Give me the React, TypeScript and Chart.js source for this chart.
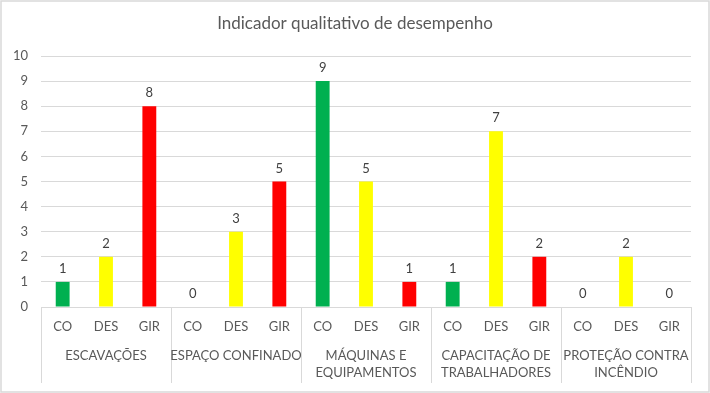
import React, { useEffect, useRef } from "react";
import { Chart, registerables } from "chart.js";

Chart.register(...registerables);

const title = "Indicador qualitativo de desempenho";
const groupLabelLines: string[][] = [
  ["ESCAVAÇÕES"],
  ["ESPAÇO CONFINADO"],
  ["MÁQUINAS E", "EQUIPAMENTOS"],
  ["CAPACITAÇÃO DE", "TRABALHADORES"],
  ["PROTEÇÃO CONTRA", "INCÊNDIO"],
];
const subLabels = ["CO", "DES", "GIR"];
const coValues = [1, 0, 9, 1, 0];
const desValues = [2, 3, 5, 7, 2];
const girValues = [8, 5, 1, 2, 0];
const subColors = ["#00B050", "#FFFF00", "#FF0000"];
const yTicks = [0, 1, 2, 3, 4, 5, 6, 7, 8, 9, 10];

const FONT = "Lato, 'Open Sans', sans-serif";
const TEXT = "#595959";

export default function App() {
  const ref = useRef<HTMLCanvasElement | null>(null);

  useEffect(() => {
    document.body.style.margin = "0";
    const labels: string[] = [];
    const values: number[] = [];
    const colors: string[] = [];
    groupLabelLines.forEach((g, gi) => {
      const vals = [coValues[gi], desValues[gi], girValues[gi]];
      subLabels.forEach((s, si) => {
        labels.push(g.join(" ") + "|" + s);
        values.push(vals[si]);
        colors.push(subColors[si]);
      });
    });

    const overlay = {
      id: "overlay",
      afterDraw(chart: any) {
        const ctx = chart.ctx as CanvasRenderingContext2D;
        const area = chart.chartArea;
        const xs = chart.scales.x;
        ctx.save();
        // frame
        ctx.strokeStyle = "#d9d9d9";
        ctx.lineWidth = 1.5;
        ctx.strokeRect(1, 1, chart.width - 2, chart.height - 2);
        // title
        ctx.fillStyle = TEXT;
        ctx.font = `17px ${FONT}`;
        ctx.textAlign = "center";
        ctx.textBaseline = "middle";
        ctx.fillText(title, chart.width / 2, 24);
        // data labels
        ctx.font = `13px ${FONT}`;
        ctx.fillStyle = "#404040";
        ctx.textBaseline = "alphabetic";
        const meta = chart.getDatasetMeta(0);
        meta.data.forEach((bar: any, i: number) => {
          ctx.fillText(String(values[i]), bar.x, bar.y - 9);
        });
        // category axis
        const n = groupLabelLines.length;
        const gw = (area.right - area.left) / n;
        ctx.strokeStyle = "#d9d9d9";
        ctx.lineWidth = 1;
        for (let g = 0; g <= n; g++) {
          const x = Math.round(area.left + g * gw) + 0.5;
          ctx.beginPath();
          ctx.moveTo(x, area.bottom);
          ctx.lineTo(x, area.bottom + 76);
          ctx.stroke();
        }
        ctx.fillStyle = TEXT;
        ctx.font = `13px ${FONT}`;
        ctx.textBaseline = "middle";
        labels.forEach((_, i) => {
          const x = xs.getPixelForValue(i);
          ctx.fillText(subLabels[i % 3], x, area.bottom + 20);
        });
        groupLabelLines.forEach((lines, gi) => {
          const cx = area.left + (gi + 0.5) * gw;
          lines.forEach((line, li) => {
            ctx.fillText(line, cx, area.bottom + 49 + li * 17);
          });
        });
        ctx.restore();
      },
    };

    const chart = new Chart(ref.current as HTMLCanvasElement, {
      type: "bar",
      data: {
        labels,
        datasets: [
          {
            data: values,
            backgroundColor: colors,
            borderWidth: 0,
            categoryPercentage: 1,
            barPercentage: 0.32,
          },
        ],
      },
      options: {
        animation: false,
        responsive: false,
        devicePixelRatio: 1,
        layout: { padding: { left: 0, top: 56, right: 19, bottom: 86 } },
        plugins: { legend: { display: false }, tooltip: { enabled: false }, title: { display: false } },
        scales: {
          x: { display: false },
          y: {
            min: 0,
            max: 10,
            afterFit: (s: any) => {
              s.width = 41;
            },
            afterBuildTicks: (s: any) => {
              s.ticks = yTicks.map((v) => ({ value: v }));
            },
            border: { display: false },
            grid: { color: "#d9d9d9", drawTicks: false },
            ticks: { color: TEXT, font: { family: FONT, size: 13 }, padding: 13 },
          },
        },
      },
      plugins: [overlay],
    });
    return () => chart.destroy();
  }, []);

  return (
    <div style={{ position: "fixed", left: 0, top: 0, width: 710, height: 393, background: "#fff" }}>
      <canvas ref={ref} width={710} height={393} style={{ width: 710, height: 393 }} />
    </div>
  );
}
